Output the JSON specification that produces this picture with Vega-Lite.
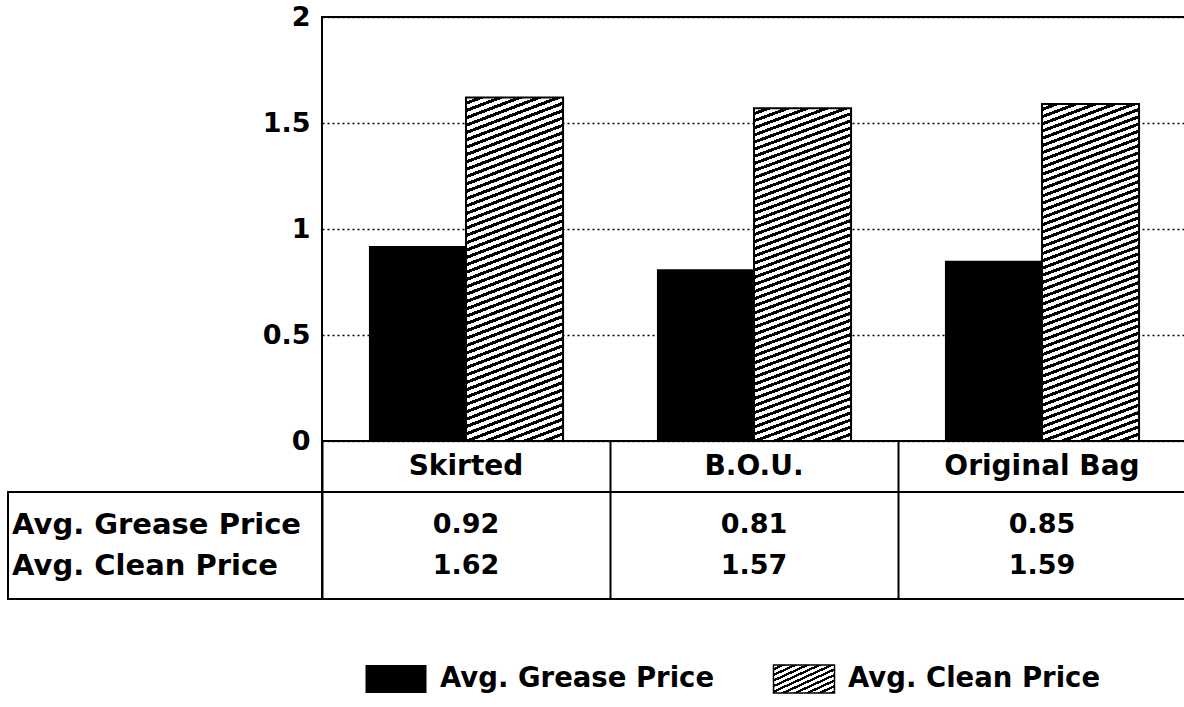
{
  "$schema": "https://vega.github.io/schema/vega-lite/v6.json",
  "padding": {"left": 7, "top": 2, "right": 0, "bottom": 0},
  "background": "white",
  "config": {"view": {"stroke": null}, "font": "DejaVu Sans"},
  "datasets": {
    "prices": [
      {"cat": "Skirted", "series": "Avg. Grease Price", "price": 0.92},
      {"cat": "Skirted", "series": "Avg. Clean Price", "price": 1.62},
      {"cat": "B.O.U.", "series": "Avg. Grease Price", "price": 0.81},
      {"cat": "B.O.U.", "series": "Avg. Clean Price", "price": 1.57},
      {"cat": "Original Bag", "series": "Avg. Grease Price", "price": 0.85},
      {"cat": "Original Bag", "series": "Avg. Clean Price", "price": 1.59}
    ]
  },
  "spacing": 64,
  "vconcat": [
    {
      "columns": 2,
      "spacing": 0,
      "bounds": "flush",
      "align": "each",
      "concat": [
        {"width": 314, "height": 424, "data": {"name": "prices"}, "mark": {"type": "text", "text": ""}, "view": {"stroke": null}},
        {
          "width": 864,
          "height": 424,
          "data": {"name": "prices"},
          "view": {"stroke": "black", "strokeWidth": 2},
          "encoding": {
            "x": {"field": "cat", "type": "nominal", "scale": {"domain": ["Skirted", "B.O.U.", "Original Bag"], "paddingInner": 0.326, "paddingOuter": 0.163}, "axis": null},
            "xOffset": {"field": "series", "type": "nominal", "scale": {"domain": ["Avg. Grease Price", "Avg. Clean Price"], "paddingInner": 0, "paddingOuter": 0}},
            "y": {
              "field": "price", "type": "quantitative",
              "scale": {"domain": [0, 2]},
              "axis": {
                "values": [0, 0.5, 1, 1.5, 2], "format": "~g", "title": null,
                "ticks": false, "domain": false, "labelFlush": false, "labelOverlap": false,
                "labelFont": "DejaVu Sans", "labelFontWeight": "bold", "labelFontSize": 27, "labelColor": "black", "labelPadding": 12,
                "grid": true, "gridColor": "black", "gridDash": [2, 3], "gridWidth": 1.5, "gridOpacity": 1
              }
            }
          },
          "layer": [
            {"transform": [{"filter": "datum.series === 'Avg. Grease Price'"}], "mark": {"type": "bar", "fill": "black"}},
            {"transform": [{"filter": "datum.series === 'Avg. Clean Price'"}], "mark": {"type": "bar", "stroke": "black", "strokeWidth": 2,
              "fill": {"gradient": "linear", "x1": 0, "y1": 0, "x2": 0.118, "y2": 1.1, "stops": [
                {"offset": 0, "color": "#fff"}, {"offset": 0.01058, "color": "#fff"}, {"offset": 0.01058, "color": "#000"}, {"offset": 0.01923, "color": "#000"},
                {"offset": 0.01923, "color": "#fff"}, {"offset": 0.02981, "color": "#fff"}, {"offset": 0.02981, "color": "#000"}, {"offset": 0.03846, "color": "#000"},
                {"offset": 0.03846, "color": "#fff"}, {"offset": 0.04904, "color": "#fff"}, {"offset": 0.04904, "color": "#000"}, {"offset": 0.05769, "color": "#000"},
                {"offset": 0.05769, "color": "#fff"}, {"offset": 0.06827, "color": "#fff"}, {"offset": 0.06827, "color": "#000"}, {"offset": 0.07692, "color": "#000"},
                {"offset": 0.07692, "color": "#fff"}, {"offset": 0.0875, "color": "#fff"}, {"offset": 0.0875, "color": "#000"}, {"offset": 0.09615, "color": "#000"},
                {"offset": 0.09615, "color": "#fff"}, {"offset": 0.10673, "color": "#fff"}, {"offset": 0.10673, "color": "#000"}, {"offset": 0.11538, "color": "#000"},
                {"offset": 0.11538, "color": "#fff"}, {"offset": 0.12596, "color": "#fff"}, {"offset": 0.12596, "color": "#000"}, {"offset": 0.13462, "color": "#000"},
                {"offset": 0.13462, "color": "#fff"}, {"offset": 0.14519, "color": "#fff"}, {"offset": 0.14519, "color": "#000"}, {"offset": 0.15385, "color": "#000"},
                {"offset": 0.15385, "color": "#fff"}, {"offset": 0.16442, "color": "#fff"}, {"offset": 0.16442, "color": "#000"}, {"offset": 0.17308, "color": "#000"},
                {"offset": 0.17308, "color": "#fff"}, {"offset": 0.18365, "color": "#fff"}, {"offset": 0.18365, "color": "#000"}, {"offset": 0.19231, "color": "#000"},
                {"offset": 0.19231, "color": "#fff"}, {"offset": 0.20288, "color": "#fff"}, {"offset": 0.20288, "color": "#000"}, {"offset": 0.21154, "color": "#000"},
                {"offset": 0.21154, "color": "#fff"}, {"offset": 0.22212, "color": "#fff"}, {"offset": 0.22212, "color": "#000"}, {"offset": 0.23077, "color": "#000"},
                {"offset": 0.23077, "color": "#fff"}, {"offset": 0.24135, "color": "#fff"}, {"offset": 0.24135, "color": "#000"}, {"offset": 0.25, "color": "#000"},
                {"offset": 0.25, "color": "#fff"}, {"offset": 0.26058, "color": "#fff"}, {"offset": 0.26058, "color": "#000"}, {"offset": 0.26923, "color": "#000"},
                {"offset": 0.26923, "color": "#fff"}, {"offset": 0.27981, "color": "#fff"}, {"offset": 0.27981, "color": "#000"}, {"offset": 0.28846, "color": "#000"},
                {"offset": 0.28846, "color": "#fff"}, {"offset": 0.29904, "color": "#fff"}, {"offset": 0.29904, "color": "#000"}, {"offset": 0.30769, "color": "#000"},
                {"offset": 0.30769, "color": "#fff"}, {"offset": 0.31827, "color": "#fff"}, {"offset": 0.31827, "color": "#000"}, {"offset": 0.32692, "color": "#000"},
                {"offset": 0.32692, "color": "#fff"}, {"offset": 0.3375, "color": "#fff"}, {"offset": 0.3375, "color": "#000"}, {"offset": 0.34615, "color": "#000"},
                {"offset": 0.34615, "color": "#fff"}, {"offset": 0.35673, "color": "#fff"}, {"offset": 0.35673, "color": "#000"}, {"offset": 0.36538, "color": "#000"},
                {"offset": 0.36538, "color": "#fff"}, {"offset": 0.37596, "color": "#fff"}, {"offset": 0.37596, "color": "#000"}, {"offset": 0.38462, "color": "#000"},
                {"offset": 0.38462, "color": "#fff"}, {"offset": 0.39519, "color": "#fff"}, {"offset": 0.39519, "color": "#000"}, {"offset": 0.40385, "color": "#000"},
                {"offset": 0.40385, "color": "#fff"}, {"offset": 0.41442, "color": "#fff"}, {"offset": 0.41442, "color": "#000"}, {"offset": 0.42308, "color": "#000"},
                {"offset": 0.42308, "color": "#fff"}, {"offset": 0.43365, "color": "#fff"}, {"offset": 0.43365, "color": "#000"}, {"offset": 0.44231, "color": "#000"},
                {"offset": 0.44231, "color": "#fff"}, {"offset": 0.45288, "color": "#fff"}, {"offset": 0.45288, "color": "#000"}, {"offset": 0.46154, "color": "#000"},
                {"offset": 0.46154, "color": "#fff"}, {"offset": 0.47212, "color": "#fff"}, {"offset": 0.47212, "color": "#000"}, {"offset": 0.48077, "color": "#000"},
                {"offset": 0.48077, "color": "#fff"}, {"offset": 0.49135, "color": "#fff"}, {"offset": 0.49135, "color": "#000"}, {"offset": 0.5, "color": "#000"},
                {"offset": 0.5, "color": "#fff"}, {"offset": 0.51058, "color": "#fff"}, {"offset": 0.51058, "color": "#000"}, {"offset": 0.51923, "color": "#000"},
                {"offset": 0.51923, "color": "#fff"}, {"offset": 0.52981, "color": "#fff"}, {"offset": 0.52981, "color": "#000"}, {"offset": 0.53846, "color": "#000"},
                {"offset": 0.53846, "color": "#fff"}, {"offset": 0.54904, "color": "#fff"}, {"offset": 0.54904, "color": "#000"}, {"offset": 0.55769, "color": "#000"},
                {"offset": 0.55769, "color": "#fff"}, {"offset": 0.56827, "color": "#fff"}, {"offset": 0.56827, "color": "#000"}, {"offset": 0.57692, "color": "#000"},
                {"offset": 0.57692, "color": "#fff"}, {"offset": 0.5875, "color": "#fff"}, {"offset": 0.5875, "color": "#000"}, {"offset": 0.59615, "color": "#000"},
                {"offset": 0.59615, "color": "#fff"}, {"offset": 0.60673, "color": "#fff"}, {"offset": 0.60673, "color": "#000"}, {"offset": 0.61538, "color": "#000"},
                {"offset": 0.61538, "color": "#fff"}, {"offset": 0.62596, "color": "#fff"}, {"offset": 0.62596, "color": "#000"}, {"offset": 0.63462, "color": "#000"},
                {"offset": 0.63462, "color": "#fff"}, {"offset": 0.64519, "color": "#fff"}, {"offset": 0.64519, "color": "#000"}, {"offset": 0.65385, "color": "#000"},
                {"offset": 0.65385, "color": "#fff"}, {"offset": 0.66442, "color": "#fff"}, {"offset": 0.66442, "color": "#000"}, {"offset": 0.67308, "color": "#000"},
                {"offset": 0.67308, "color": "#fff"}, {"offset": 0.68365, "color": "#fff"}, {"offset": 0.68365, "color": "#000"}, {"offset": 0.69231, "color": "#000"},
                {"offset": 0.69231, "color": "#fff"}, {"offset": 0.70288, "color": "#fff"}, {"offset": 0.70288, "color": "#000"}, {"offset": 0.71154, "color": "#000"},
                {"offset": 0.71154, "color": "#fff"}, {"offset": 0.72212, "color": "#fff"}, {"offset": 0.72212, "color": "#000"}, {"offset": 0.73077, "color": "#000"},
                {"offset": 0.73077, "color": "#fff"}, {"offset": 0.74135, "color": "#fff"}, {"offset": 0.74135, "color": "#000"}, {"offset": 0.75, "color": "#000"},
                {"offset": 0.75, "color": "#fff"}, {"offset": 0.76058, "color": "#fff"}, {"offset": 0.76058, "color": "#000"}, {"offset": 0.76923, "color": "#000"},
                {"offset": 0.76923, "color": "#fff"}, {"offset": 0.77981, "color": "#fff"}, {"offset": 0.77981, "color": "#000"}, {"offset": 0.78846, "color": "#000"},
                {"offset": 0.78846, "color": "#fff"}, {"offset": 0.79904, "color": "#fff"}, {"offset": 0.79904, "color": "#000"}, {"offset": 0.80769, "color": "#000"},
                {"offset": 0.80769, "color": "#fff"}, {"offset": 0.81827, "color": "#fff"}, {"offset": 0.81827, "color": "#000"}, {"offset": 0.82692, "color": "#000"},
                {"offset": 0.82692, "color": "#fff"}, {"offset": 0.8375, "color": "#fff"}, {"offset": 0.8375, "color": "#000"}, {"offset": 0.84615, "color": "#000"},
                {"offset": 0.84615, "color": "#fff"}, {"offset": 0.85673, "color": "#fff"}, {"offset": 0.85673, "color": "#000"}, {"offset": 0.86538, "color": "#000"},
                {"offset": 0.86538, "color": "#fff"}, {"offset": 0.87596, "color": "#fff"}, {"offset": 0.87596, "color": "#000"}, {"offset": 0.88462, "color": "#000"},
                {"offset": 0.88462, "color": "#fff"}, {"offset": 0.89519, "color": "#fff"}, {"offset": 0.89519, "color": "#000"}, {"offset": 0.90385, "color": "#000"},
                {"offset": 0.90385, "color": "#fff"}, {"offset": 0.91442, "color": "#fff"}, {"offset": 0.91442, "color": "#000"}, {"offset": 0.92308, "color": "#000"},
                {"offset": 0.92308, "color": "#fff"}, {"offset": 0.93365, "color": "#fff"}, {"offset": 0.93365, "color": "#000"}, {"offset": 0.94231, "color": "#000"},
                {"offset": 0.94231, "color": "#fff"}, {"offset": 0.95288, "color": "#fff"}, {"offset": 0.95288, "color": "#000"}, {"offset": 0.96154, "color": "#000"},
                {"offset": 0.96154, "color": "#fff"}, {"offset": 0.97212, "color": "#fff"}, {"offset": 0.97212, "color": "#000"}, {"offset": 0.98077, "color": "#000"},
                {"offset": 0.98077, "color": "#fff"}, {"offset": 0.99135, "color": "#fff"}, {"offset": 0.99135, "color": "#000"}, {"offset": 1, "color": "#000"}
              ]}
            }}
          ]
        },
        {"width": 314, "height": 51, "data": {"name": "prices"}, "mark": {"type": "text", "text": ""}, "view": {"stroke": null}},
        {
          "width": 864,
          "height": 51,
          "data": {"name": "prices"},
          "transform": [{"filter": "datum.series === 'Avg. Grease Price'"}],
          "view": {"stroke": "black", "strokeWidth": 2},
          "mark": {"type": "text", "font": "DejaVu Sans", "fontWeight": "bold", "fontSize": 28, "color": "black"},
          "encoding": {
            "x": {"field": "cat", "type": "nominal", "scale": {"type": "band", "domain": ["Skirted", "B.O.U.", "Original Bag"], "paddingInner": 0, "paddingOuter": 0},
              "axis": {"title": null, "labels": false, "ticks": false, "domain": false, "grid": true, "tickBand": "extent", "gridColor": "black", "gridWidth": 2, "gridOpacity": 1}},
            "text": {"field": "cat"}
          }
        },
        {
          "width": 314,
          "height": 107,
          "data": {"name": "prices"},
          "transform": [{"filter": "datum.cat === 'Skirted'"}],
          "view": {"stroke": "black", "strokeWidth": 2},
          "mark": {"type": "text", "align": "left", "font": "DejaVu Sans", "fontWeight": "bold", "fontSize": 29, "color": "black"},
          "encoding": {
            "x": {"field": "cat", "type": "nominal", "bandPosition": 0.013, "scale": {"type": "band", "paddingInner": 0, "paddingOuter": 0}, "axis": null},
            "y": {"field": "series", "type": "nominal", "scale": {"type": "point", "domain": ["Avg. Grease Price", "Avg. Clean Price"], "padding": 0.8}, "axis": null},
            "text": {"field": "series"}
          }
        },
        {
          "width": 864,
          "height": 107,
          "data": {"name": "prices"},
          "view": {"stroke": "black", "strokeWidth": 2},
          "mark": {"type": "text", "font": "DejaVu Sans", "fontWeight": "bold", "fontSize": 27, "color": "black"},
          "encoding": {
            "x": {"field": "cat", "type": "nominal", "scale": {"type": "band", "domain": ["Skirted", "B.O.U.", "Original Bag"], "paddingInner": 0, "paddingOuter": 0},
              "axis": {"title": null, "labels": false, "ticks": false, "domain": false, "grid": true, "tickBand": "extent", "gridColor": "black", "gridWidth": 2, "gridOpacity": 1}},
            "y": {"field": "series", "type": "nominal", "scale": {"type": "point", "domain": ["Avg. Grease Price", "Avg. Clean Price"], "padding": 0.8}, "axis": null},
            "text": {"field": "price", "type": "quantitative", "format": ".2f"}
          }
        }
      ]
    },
    {
      "width": 1000,
      "height": 28,
      "data": {"name": "prices"},
      "transform": [{"filter": "datum.cat === 'Skirted'"}],
      "view": {"stroke": null},
      "encoding": {
        "x": {"field": "series", "type": "nominal", "scale": {"type": "band", "domain": ["Avg. Grease Price", "Avg. Clean Price"], "paddingInner": 0, "paddingOuter": 0.2255, "align": 1}, "axis": null}
      },
      "layer": [
        {"transform": [{"filter": "datum.series === 'Avg. Grease Price'"}], "mark": {"type": "bar", "width": 61, "fill": "black"}},
        {"transform": [{"filter": "datum.series === 'Avg. Clean Price'"}], "mark": {"type": "bar", "width": 61, "stroke": "black", "strokeWidth": 1.5,
          "fill": {"gradient": "linear", "x1": 0, "y1": 0, "x2": 1, "y2": 1, "stops": [
            {"offset": 0, "color": "#fff"}, {"offset": 0.055, "color": "#fff"}, {"offset": 0.055, "color": "#000"}, {"offset": 0.1, "color": "#000"},
            {"offset": 0.1, "color": "#fff"}, {"offset": 0.155, "color": "#fff"}, {"offset": 0.155, "color": "#000"}, {"offset": 0.2, "color": "#000"},
            {"offset": 0.2, "color": "#fff"}, {"offset": 0.255, "color": "#fff"}, {"offset": 0.255, "color": "#000"}, {"offset": 0.3, "color": "#000"},
            {"offset": 0.3, "color": "#fff"}, {"offset": 0.355, "color": "#fff"}, {"offset": 0.355, "color": "#000"}, {"offset": 0.4, "color": "#000"},
            {"offset": 0.4, "color": "#fff"}, {"offset": 0.455, "color": "#fff"}, {"offset": 0.455, "color": "#000"}, {"offset": 0.5, "color": "#000"},
            {"offset": 0.5, "color": "#fff"}, {"offset": 0.555, "color": "#fff"}, {"offset": 0.555, "color": "#000"}, {"offset": 0.6, "color": "#000"},
            {"offset": 0.6, "color": "#fff"}, {"offset": 0.655, "color": "#fff"}, {"offset": 0.655, "color": "#000"}, {"offset": 0.7, "color": "#000"},
            {"offset": 0.7, "color": "#fff"}, {"offset": 0.755, "color": "#fff"}, {"offset": 0.755, "color": "#000"}, {"offset": 0.8, "color": "#000"},
            {"offset": 0.8, "color": "#fff"}, {"offset": 0.855, "color": "#fff"}, {"offset": 0.855, "color": "#000"}, {"offset": 0.9, "color": "#000"},
            {"offset": 0.9, "color": "#fff"}, {"offset": 0.955, "color": "#fff"}, {"offset": 0.955, "color": "#000"}, {"offset": 1, "color": "#000"}
          ]}
        }},
        {"mark": {"type": "text", "align": "left", "font": "DejaVu Sans", "fontWeight": "bold", "fontSize": 27.5, "color": "black"},
          "encoding": {"x": {"field": "series", "type": "nominal", "bandPosition": 0.608}, "text": {"field": "series"}}}
      ]
    }
  ]
}
